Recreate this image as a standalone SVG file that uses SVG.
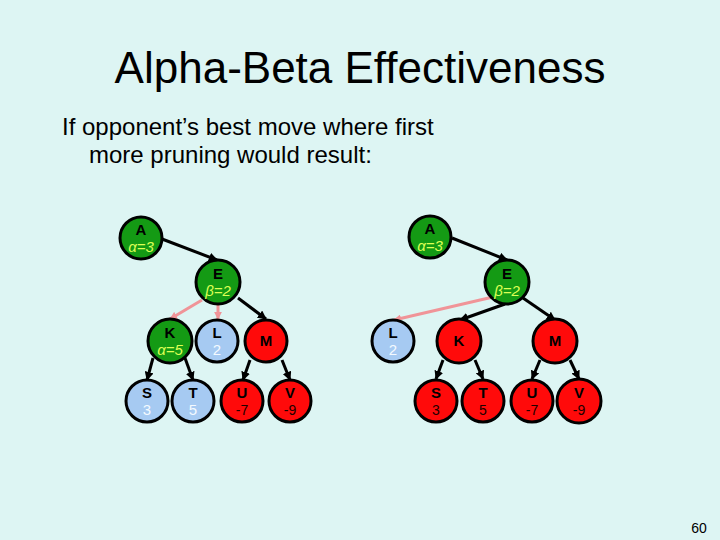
<svg xmlns="http://www.w3.org/2000/svg" width="720" height="540" viewBox="0 0 720 540">
<defs>
<style>
.bg{fill:#DDF5F3}
.n{stroke:#000;stroke-width:3}
.g{fill:#149A14}
.r{fill:#FF0A0A}
.b{fill:#A6CAF2}
.lbl{font-family:"Liberation Sans",Arial,sans-serif;font-weight:bold;font-size:15px;text-anchor:middle;fill:#000}
.gv{font-family:"Liberation Sans",Arial,sans-serif;font-style:italic;font-size:15px;text-anchor:middle;fill:#DDFF55}
.bv{font-family:"Liberation Sans",Arial,sans-serif;font-size:15px;text-anchor:middle;fill:#F4FAFF}
.rv{font-family:"Liberation Sans",Arial,sans-serif;font-size:14px;text-anchor:middle;fill:#200000}
.e{stroke:#000;stroke-width:3;fill:none;marker-end:url(#ah)}
.p{stroke:#F09498;stroke-width:3;fill:none;marker-end:url(#ap)}
.t{font-family:"Liberation Sans",Arial,sans-serif;fill:#000}
</style>
<marker id="ah" viewBox="0 0 10 10" refX="9" refY="5" markerWidth="9" markerHeight="9" markerUnits="userSpaceOnUse" orient="auto"><path d="M0,0 L10,5 L0,10 z" fill="#000"/></marker>
<marker id="ap" viewBox="0 0 10 10" refX="9" refY="5" markerWidth="8" markerHeight="8" markerUnits="userSpaceOnUse" orient="auto"><path d="M0,0 L10,5 L0,10 z" fill="#F09498"/></marker>
</defs>
<rect class="bg" x="0" y="0" width="720" height="540"/>
<text class="t" x="360" y="83" font-size="44" text-anchor="middle">Alpha-Beta Effectiveness</text>
<text class="t" x="62" y="135" font-size="24">If opponent’s best move where first</text>
<text class="t" x="89" y="163" font-size="24">more pruning would result:</text>
<text class="t" x="699" y="533" font-size="14" text-anchor="middle">60</text>
<g id="connectors">
<line class="e" x1="162" y1="239" x2="217" y2="260"/>
<line class="p" x1="202" y1="300" x2="170" y2="319"/>
<line class="p" x1="218" y1="304" x2="218" y2="319"/>
<line class="e" x1="238" y1="298" x2="266" y2="319"/>
<line class="e" x1="153" y1="358" x2="147" y2="380"/>
<line class="e" x1="185" y1="358" x2="193" y2="380"/>
<line class="e" x1="250" y1="360" x2="243" y2="380"/>
<line class="e" x1="282" y1="360" x2="290" y2="380"/>
<line class="e" x1="452" y1="238" x2="507" y2="260"/>
<line class="p" x1="493" y1="297" x2="394" y2="320"/>
<line class="e" x1="505" y1="304" x2="460" y2="320"/>
<line class="e" x1="523" y1="298" x2="555" y2="320"/>
<line class="e" x1="443" y1="360" x2="436" y2="379"/>
<line class="e" x1="475" y1="360" x2="483" y2="379"/>
<line class="e" x1="540" y1="360" x2="532" y2="379"/>
<line class="e" x1="570" y1="360" x2="579" y2="379"/>
</g>
<g id="A1"><circle class="n g" cx="141" cy="238" r="21"/><text class="lbl" x="141" y="235">A</text><text class="gv" x="141" y="252">α=3</text></g>
<g id="E1"><circle class="n g" cx="218" cy="282" r="22"/><text class="lbl" x="218" y="279">E</text><text class="gv" x="218" y="296">β=2</text></g>
<g id="K1"><circle class="n g" cx="170" cy="341" r="22"/><text class="lbl" x="170" y="338">K</text><text class="gv" x="170" y="355">α=5</text></g>
<g id="L1"><circle class="n b" cx="217" cy="341" r="21"/><text class="lbl" x="217" y="338">L</text><text class="bv" x="217" y="355">2</text></g>
<g id="M1"><circle class="n r" cx="266" cy="341" r="21"/><text class="lbl" x="266" y="346">M</text></g>
<g id="S1"><circle class="n b" cx="147" cy="401" r="21"/><text class="lbl" x="147" y="398">S</text><text class="bv" x="147" y="415">3</text></g>
<g id="T1"><circle class="n b" cx="193" cy="401" r="21"/><text class="lbl" x="193" y="398">T</text><text class="bv" x="193" y="415">5</text></g>
<g id="U1"><circle class="n r" cx="242" cy="401" r="21"/><text class="lbl" x="242" y="398">U</text><text class="rv" x="242" y="415">-7</text></g>
<g id="V1"><circle class="n r" cx="290" cy="401" r="21"/><text class="lbl" x="290" y="398">V</text><text class="rv" x="290" y="415">-9</text></g>
<g id="A2"><circle class="n g" cx="430" cy="237" r="21"/><text class="lbl" x="430" y="234">A</text><text class="gv" x="430" y="251">α=3</text></g>
<g id="E2"><circle class="n g" cx="507" cy="282" r="22"/><text class="lbl" x="507" y="279">E</text><text class="gv" x="507" y="296">β=2</text></g>
<g id="L2"><circle class="n b" cx="393" cy="341" r="21"/><text class="lbl" x="393" y="338">L</text><text class="bv" x="393" y="355">2</text></g>
<g id="K2"><circle class="n r" cx="459" cy="341" r="22"/><text class="lbl" x="459" y="346">K</text></g>
<g id="M2"><circle class="n r" cx="555" cy="341" r="22"/><text class="lbl" x="555" y="346">M</text></g>
<g id="S2"><circle class="n r" cx="436" cy="401" r="21"/><text class="lbl" x="436" y="398">S</text><text class="rv" x="436" y="415">3</text></g>
<g id="T2"><circle class="n r" cx="483" cy="401" r="21"/><text class="lbl" x="483" y="398">T</text><text class="rv" x="483" y="415">5</text></g>
<g id="U2"><circle class="n r" cx="532" cy="401" r="21"/><text class="lbl" x="532" y="398">U</text><text class="rv" x="532" y="415">-7</text></g>
<g id="V2"><circle class="n r" cx="579" cy="401" r="22"/><text class="lbl" x="579" y="398">V</text><text class="rv" x="579" y="415">-9</text></g>
</svg>
